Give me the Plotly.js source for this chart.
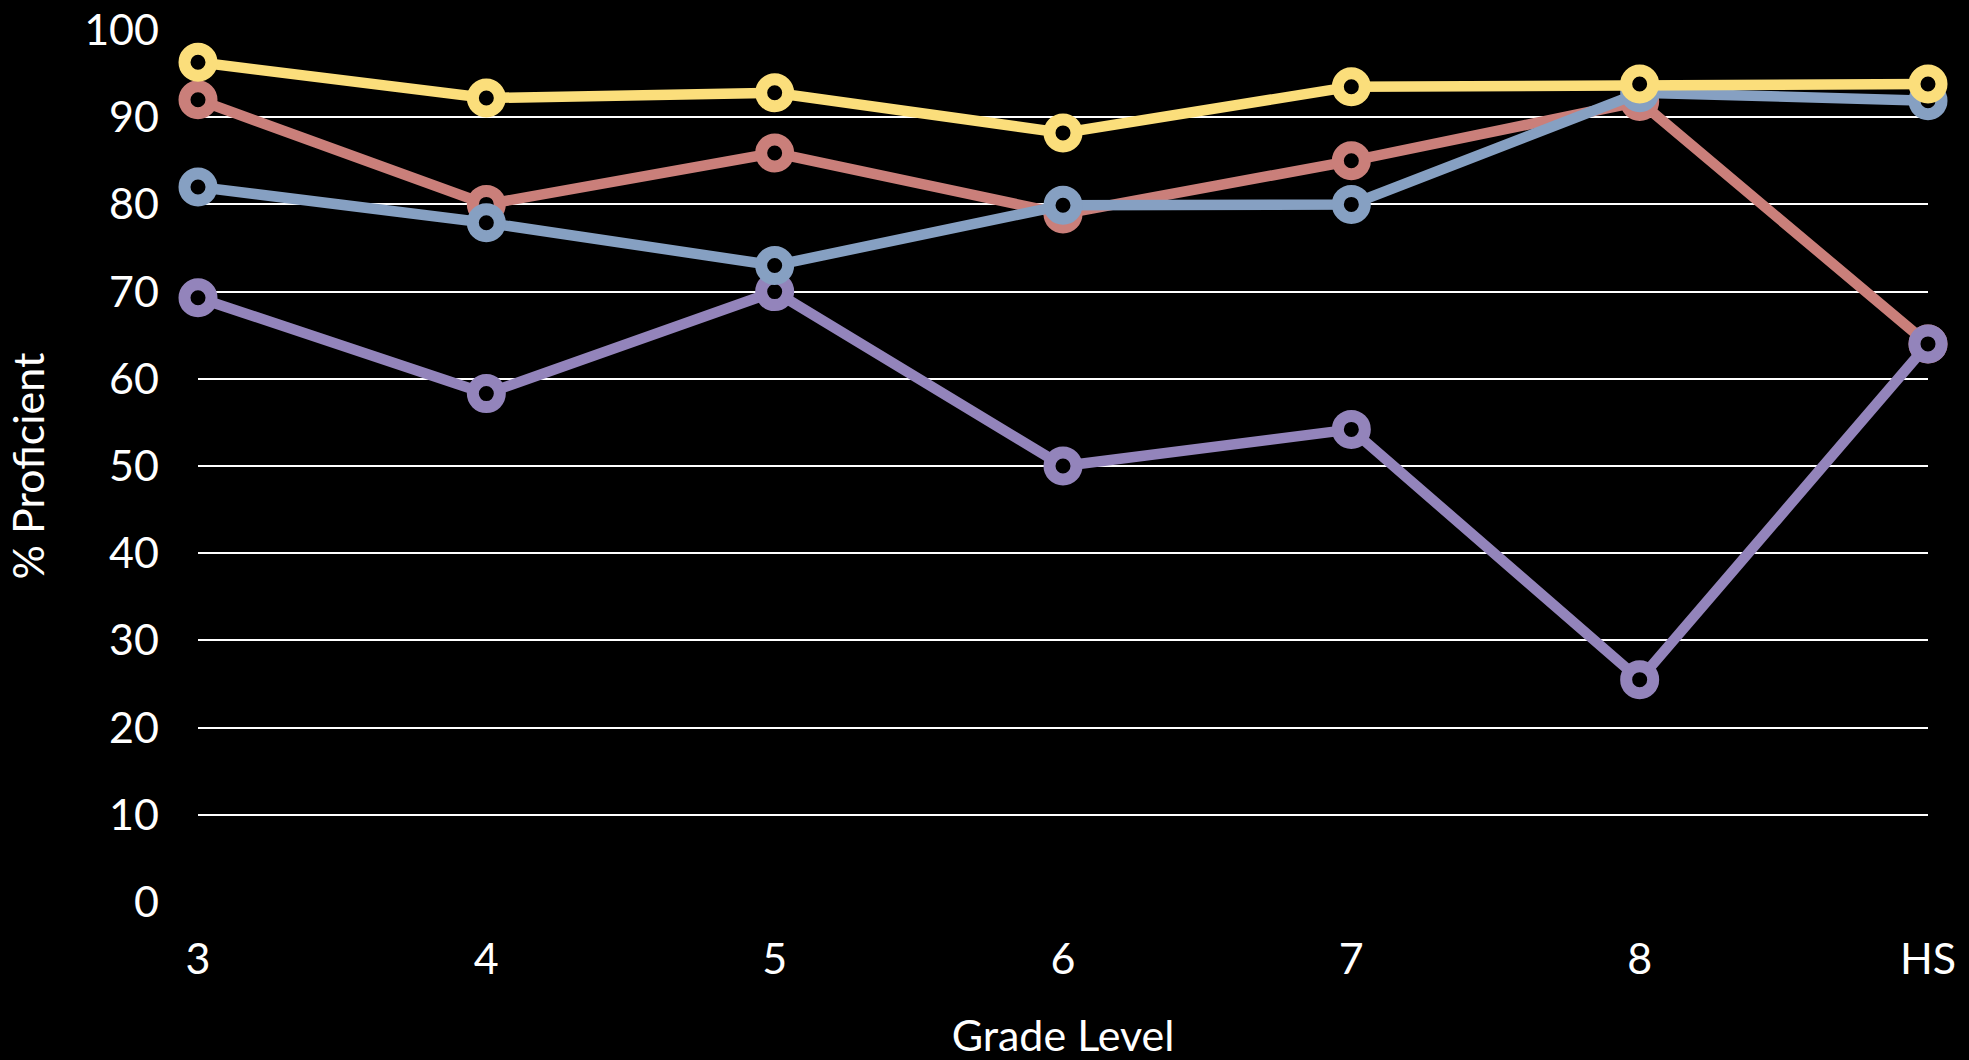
<!DOCTYPE html>
<html>
<head>
<meta charset="utf-8">
<script src="https://cdn.plot.ly/plotly-3.0.1.min.js"></script>
<style>
  html, body { margin: 0; padding: 0; background: #000; }
  #chart { width: 1969px; height: 1060px; }
</style>
</head>
<body>
<div id="chart"></div>
<script>
const grades = ["3", "4", "5", "6", "7", "8", "HS"];
const yTickVals = [0, 10, 20, 30, 40, 50, 60, 70, 80, 90, 100];

const redSeries    = [92.0, 80.0, 85.9, 78.9, 85.0, 91.8, 64.0];
const purpleSeries = [69.3, 58.3, 70.0, 50.0, 54.2, 25.5, 64.0];
const blueSeries   = [82.0, 77.9, 73.0, 79.9, 80.0, 92.8, 91.9];
const yellowSeries = [96.3, 92.2, 92.8, 88.2, 93.5, 93.8, 93.8];

function series(values, color) {
  return {
    x: grades,
    y: values,
    type: "scatter",
    mode: "lines+markers",
    cliponaxis: false,
    line: { color: color, width: 10.5 },
    marker: {
      symbol: "circle",
      size: 27,
      color: "#000000",
      line: { color: color, width: 12 }
    },
    hoverinfo: "skip",
    showlegend: false
  };
}

const data = [
  series(redSeries, "#CA7F7A"),
  series(purpleSeries, "#9384BB"),
  series(blueSeries, "#86A0C2"),
  series(yellowSeries, "#FBDE7B")
];

const font = "Lato, 'Open Sans', sans-serif";

const layout = {
  width: 1969,
  height: 1060,
  paper_bgcolor: "#000000",
  plot_bgcolor: "#000000",
  margin: { l: 198, r: 41, t: 30, b: 158, pad: 0 },
  font: { family: font, color: "#FFFFFF", size: 43 },
  xaxis: {
    type: "category",
    range: [0, 6],
    showgrid: false,
    zeroline: false,
    showline: false,
    ticks: "",
    ticklabelstandoff: 28,
    tickfont: { family: font, size: 43, color: "#FFFFFF" },
    title: { text: "Grade Level", font: { family: font, size: 43, color: "#FFFFFF" }, standoff: 43 }
  },
  yaxis: {
    range: [0, 100],
    tickvals: yTickVals,
    ticktext: yTickVals.map(String),
    showgrid: true,
    gridcolor: "#FFFFFF",
    gridwidth: 2,
    zeroline: false,
    showline: false,
    ticks: "",
    ticklabelstandoff: 38,
    tickfont: { family: font, size: 43, color: "#FFFFFF" },
    title: { text: "% Proficient", font: { family: font, size: 43, color: "#FFFFFF" }, standoff: 26 }
  }
};

Plotly.newPlot("chart", data, layout, { displayModeBar: false, staticPlot: true });
</script>
</body>
</html>
